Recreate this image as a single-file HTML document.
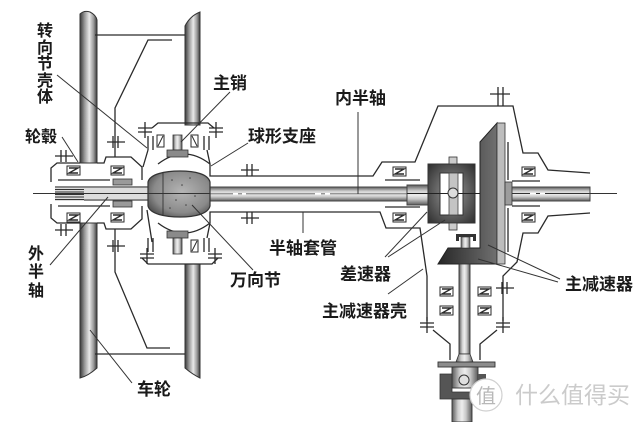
<!DOCTYPE html>
<html><head><meta charset="utf-8"><style>
html,body{margin:0;padding:0;background:#fff;}
svg{display:block;}
text{font-family:"Liberation Sans","Noto Sans CJK SC",sans-serif;fill:#1a1a1a;}
</style></head><body>
<svg width="640" height="422" viewBox="0 0 640 422" xmlns="http://www.w3.org/2000/svg">
<defs>
<linearGradient id="tire" x1="0" x2="1" y1="0" y2="0">
<stop offset="0" stop-color="#3a3a3a"/><stop offset="0.28" stop-color="#9a9a9a"/><stop offset="0.55" stop-color="#e8e8e8"/><stop offset="0.8" stop-color="#9a9a9a"/><stop offset="1" stop-color="#3a3a3a"/>
</linearGradient>
<linearGradient id="shH" x1="0" x2="0" y1="0" y2="1">
<stop offset="0" stop-color="#5a5a5a"/><stop offset="0.3" stop-color="#cfcfcf"/><stop offset="0.5" stop-color="#eeeeee"/><stop offset="0.7" stop-color="#c8c8c8"/><stop offset="1" stop-color="#5a5a5a"/>
</linearGradient>
<linearGradient id="shV" x1="0" x2="1" y1="0" y2="0">
<stop offset="0" stop-color="#5a5a5a"/><stop offset="0.3" stop-color="#cfcfcf"/><stop offset="0.5" stop-color="#eeeeee"/><stop offset="0.7" stop-color="#c8c8c8"/><stop offset="1" stop-color="#5a5a5a"/>
</linearGradient>
<radialGradient id="ball" cx="0.55" cy="0.45" r="0.65">
<stop offset="0" stop-color="#b5b5b5"/><stop offset="0.7" stop-color="#8a8a8a"/><stop offset="1" stop-color="#4e4e4e"/>
</radialGradient>
<radialGradient id="carr" cx="0.5" cy="0.5" r="0.7">
<stop offset="0" stop-color="#9a9a9a"/><stop offset="1" stop-color="#2e2e2e"/>
</radialGradient>
<linearGradient id="ring" x1="0" x2="1" y1="0" y2="0">
<stop offset="0" stop-color="#262626"/><stop offset="1" stop-color="#707070"/>
</linearGradient>
<g id="brg"><rect x="0" y="0" width="13" height="9" fill="#fff" stroke="#2a2a2a" stroke-width="1"/><path d="M2,2 H11 L2,7 H11" fill="none" stroke="#2a2a2a" stroke-width="1.4"/></g>
<path id="bH" d="M-9,0 H9 M-3,-6 V6 M2,-6 V6" fill="none" stroke="#2a2a2a" stroke-width="1.3"/>
<path id="bV" d="M0,-8 V8 M-7,-2 H7 M-7,2 H7" fill="none" stroke="#2a2a2a" stroke-width="1.3"/>
</defs>

<rect width="640" height="422" fill="#fff"/>

<!-- tires -->
<path d="M80,163 L80,14 Q84,10 90,12 Q96,15 97,20 L97,163 Z" fill="url(#tire)" stroke="#333" stroke-width="1"/>
<path d="M185,125 L185,26 Q190,16 200,12 L200,125 Z" fill="url(#tire)" stroke="#333" stroke-width="1"/>
<path d="M80,223 L80,378 Q88,376 97,368 L97,223 Z" fill="url(#tire)" stroke="#333" stroke-width="1"/>
<path d="M185,264 L185,368 Q192,374 200,378 L200,264 Z" fill="url(#tire)" stroke="#333" stroke-width="1"/>

<g fill="none" stroke="#2a2a2a" stroke-width="1.3">
<line x1="95" y1="35" x2="185" y2="35"/>
<line x1="95" y1="354" x2="185" y2="354"/>
<polyline points="172,40 148,40 115,108 115,157"/>
<polyline points="115,229 115,272 147,348 170,348"/>
<path d="M51,182 L51,168 L57,163 L80,163 M97,163 L104,163 L106,157 L131,157 L142,167 L142,180"/>
<path d="M51,204 L51,218 L57,223 L80,223 M97,223 L104,223 L106,229 L131,229 L142,219 L142,206"/>
<path d="M58,180 H110 M58,206 H110"/>
<path d="M152,128 L158,123 H208 L214,128"/>
<path d="M148,136 V150 M153,136 V150 M204,136 V150 M209,136 V150"/>
<path d="M148,150 L143,167"/>
<path d="M142,258 L148,264 H212 L218,258"/>
<path d="M148,238 V252 M153,238 V252 M204,238 V252 M209,238 V252"/>
<path d="M147,210 L152,242"/>
<path d="M158,164 Q184,144 210,164"/>
<path d="M158,223 Q184,243 210,223"/>
<path d="M207,150 L210,164 L210,176 H373 L382,162 H415 L438,106 H513 L523,153 H538 L548,170 L590,173"/>
<path d="M207,238 L210,223 L210,212 H380 L386,228 H420 L427,276 V321"/>
<path d="M385,180 H420 M385,207 H420 M512,181 H540 M512,206 H540"/>
<path d="M590,213 L548,216 L538,233 H523 L517,262 L503,276 V321"/>
<path d="M508,142 V180 M508,208 V252"/>
<path d="M433,330 L450,344 V360 M497,330 L480,344 V360"/>
<path d="M498,87 V106 M503,87 V106 M490,94 H510"/>
</g>

<use href="#bH" x="116" y="142"/>
<use href="#bH" x="116" y="246"/>
<use href="#bH" x="64" y="156"/>
<use href="#bH" x="64" y="230"/>
<use href="#bV" x="145" y="130"/>
<use href="#bV" x="216" y="130"/>
<use href="#bV" x="147" y="256"/>
<use href="#bV" x="215" y="256"/>
<use href="#bH" x="250" y="170"/>
<use href="#bH" x="250" y="218"/>
<use href="#bV" x="427" y="325"/>
<use href="#bV" x="503" y="325"/>
<use href="#bH" x="505" y="288"/>

<use href="#brg" x="67" y="166"/>
<use href="#brg" x="111" y="166"/>
<use href="#brg" x="67" y="213"/>
<use href="#brg" x="111" y="213"/>
<use href="#brg" x="393" y="167"/>
<use href="#brg" x="393" y="213"/>
<use href="#brg" x="522" y="167"/>
<use href="#brg" x="522" y="213"/>
<use href="#brg" x="440" y="287"/>
<use href="#brg" x="478" y="287"/>
<use href="#brg" x="440" y="306"/>
<use href="#brg" x="478" y="306"/>

<rect x="55" y="186" width="93" height="15" fill="#dcdcdc"/>
<g stroke="#333" stroke-width="1">
<path d="M55,187 H84 M55,189.5 H84 M55,192 H84 M55,194.5 H84 M55,197 H84 M55,199.5 H84"/>
<path d="M84,187 H148 M84,200 H148"/>
<path d="M33,193.5 H148"/>
</g>
<rect x="113" y="179" width="19" height="6" fill="#9a9a9a" stroke="#333" stroke-width="0.8"/>
<rect x="113" y="201" width="19" height="6" fill="#9a9a9a" stroke="#333" stroke-width="0.8"/>

<rect x="173" y="135" width="9" height="15" fill="url(#shV)" stroke="#333" stroke-width="0.8"/>
<rect x="167" y="150" width="21" height="7" fill="#8a8a8a" stroke="#333" stroke-width="0.8"/>
<rect x="167" y="231" width="21" height="7" fill="#8a8a8a" stroke="#333" stroke-width="0.8"/>
<rect x="173" y="238" width="9" height="16" fill="url(#shV)" stroke="#333" stroke-width="0.8"/>
<g fill="#fff" stroke="#2a2a2a" stroke-width="1">
<rect x="157" y="135" width="7" height="12"/><path d="M158,146 L163,136"/>
<rect x="191" y="135" width="7" height="12"/><path d="M192,136 L197,146"/>
<rect x="191" y="240" width="7" height="12"/><path d="M192,251 L197,241"/>
</g>

<rect x="210" y="187" width="197" height="14" fill="url(#shH)" stroke="#444" stroke-width="1"/>
<path d="M210,193.8 H407" stroke="#666" stroke-width="0.8"/>
<path d="M233,193.8 H238 M242,193.8 H246 M315,193.8 H321 M325,193.8 H330" stroke="#fff" stroke-width="1.6"/>

<path d="M148,182 C150,174 165,171 180,171 C195,171 208,174 210,182 L210,206 C208,214 195,217 180,217 C165,217 150,214 148,206 Z" fill="url(#ball)" stroke="#333" stroke-width="1.2"/>
<path d="M163,172 V216 M148,193.5 H210" stroke="#333" stroke-width="0.9"/>
<g fill="#444"><circle cx="172" cy="180" r="0.8"/><circle cx="182" cy="185" r="0.8"/><circle cx="190" cy="178" r="0.8"/><circle cx="176" cy="200" r="0.8"/><circle cx="186" cy="205" r="0.8"/><circle cx="195" cy="196" r="0.8"/><circle cx="170" cy="208" r="0.8"/></g>

<rect x="407" y="185" width="21" height="20" fill="url(#shH)" stroke="#444" stroke-width="1"/>
<rect x="428" y="164" width="47" height="59" fill="url(#carr)" stroke="#333" stroke-width="1"/>
<rect x="440" y="173" width="23" height="42" fill="#fff" stroke="#333" stroke-width="1"/>
<rect x="449" y="173" width="9" height="42" fill="#c4c4c4" stroke="#444" stroke-width="0.8"/>
<rect x="449" y="157" width="8" height="7" fill="#ccc" stroke="#333" stroke-width="0.8"/>
<rect x="449" y="223" width="8" height="7" fill="#ccc" stroke="#333" stroke-width="0.8"/>
<path d="M407,193.5 H617" stroke="#222" stroke-width="1"/>
<circle cx="453" cy="193" r="5" fill="#ddd" stroke="#333" stroke-width="1"/>

<polygon points="480,142 497,123 497,264 438,264 448,248 480,248" fill="url(#ring)" stroke="#222" stroke-width="1"/>
<rect x="497" y="123" width="8" height="141" fill="#bdbdbd" stroke="#333" stroke-width="0.8"/>
<rect x="505" y="182" width="7" height="23" fill="#9c9c9c" stroke="#333" stroke-width="0.8"/>
<rect x="512" y="187" width="78" height="14" fill="url(#shH)" stroke="#444" stroke-width="1"/>
<path d="M512,193.5 H617" stroke="#333" stroke-width="0.9"/>
<path d="M530,193.5 H536 M540,193.5 H545" stroke="#fff" stroke-width="1.6"/>

<rect x="456" y="234" width="20" height="3" fill="#333"/>
<rect x="456" y="237" width="3" height="4" fill="#333"/>
<rect x="473" y="237" width="3" height="4" fill="#333"/>
<rect x="461" y="237" width="9" height="11" fill="url(#shV)" stroke="#333" stroke-width="0.6"/>

<rect x="459" y="264" width="11" height="90" fill="url(#shV)" stroke="#333" stroke-width="0.9"/>
<path d="M459,354 H470 L473,362 H456 Z" fill="url(#shV)" stroke="#333" stroke-width="0.8"/>
<rect x="438" y="362" width="57" height="5" fill="#8c8c8c" stroke="#333" stroke-width="0.9"/>
<rect x="452" y="367" width="26" height="21" fill="url(#shV)" stroke="#333" stroke-width="0.9"/>
<circle cx="464" cy="380" r="5" fill="#e0e0e0" stroke="#333" stroke-width="1"/>
<path d="M440,374 H452 V392 H472 V399 H440 Z" fill="#555" stroke="#333" stroke-width="0.8"/>
<rect x="478" y="374" width="8" height="12" fill="#555"/>
<rect x="452" y="399" width="20" height="23" fill="url(#shV)" stroke="#333" stroke-width="0.9"/>

<g stroke="#333" stroke-width="1" fill="none">
<path d="M57,75 L147,148"/>
<path d="M230,92 L181,142"/>
<path d="M248,143 L211,166"/>
<path d="M62,137 L78,162"/>
<path d="M358,112 V194"/>
<path d="M303,212 V233"/>
<path d="M253,270 L192,205"/>
<path d="M50,265 L108,197"/>
<path d="M132,383 L90,330"/>
<path d="M385,257 L427,212 M388,257 L445,220"/>
<path d="M388,294 L423,269"/>
<path d="M560,279 L488,245 M558,282 L478,259"/>
</g>

<g font-size="16" font-weight="bold">
<text x="37" y="36">转</text>
<text x="37" y="53">向</text>
<text x="37" y="69">节</text>
<text x="37" y="86">壳</text>
<text x="37" y="102">体</text>
<text x="28" y="259">外</text>
<text x="28" y="277">半</text>
<text x="28" y="296">轴</text>
<text x="25" y="142">轮毂</text>
</g>
<g font-size="17" font-weight="bold">
<text x="213" y="89">主销</text>
<text x="248" y="142">球形支座</text>
<text x="335" y="104">内半轴</text>
<text x="269" y="254">半轴套管</text>
<text x="230" y="286">万向节</text>
<text x="340" y="280">差速器</text>
<text x="322" y="317">主减速器壳</text>
<text x="565" y="290">主减速器</text>
<text x="137" y="395">车轮</text>
</g>

<circle cx="486" cy="395" r="16" fill="#fff" stroke="#d0d0d0" stroke-width="1.2"/>
<text x="476" y="403" font-size="20" style="fill:#b8b8b8">值</text>
<text x="515" y="403" font-size="23" style="fill:#cbcbcb">什么值得买</text>
</svg>
</body></html>
